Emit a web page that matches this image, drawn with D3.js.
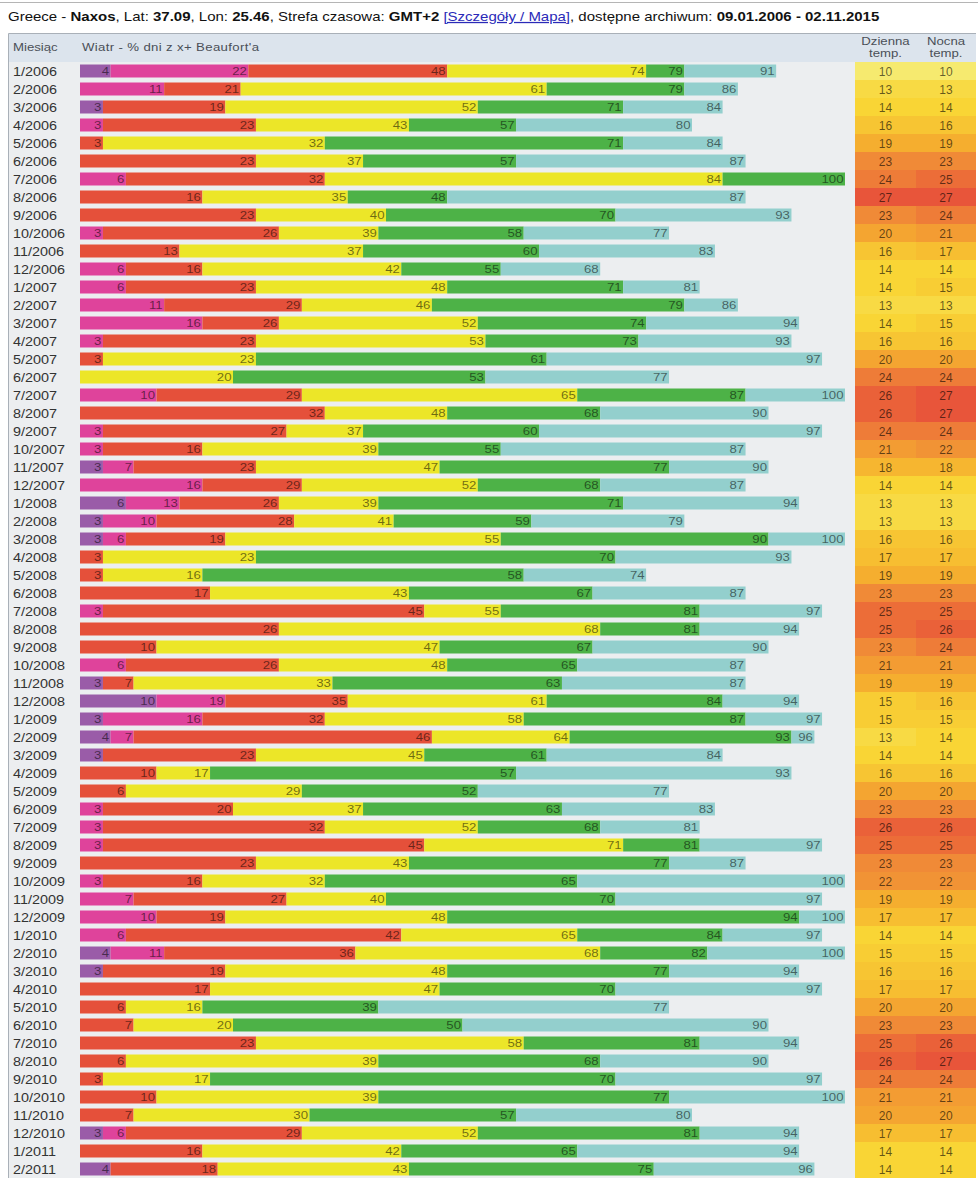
<!DOCTYPE html>
<html>
<head>
<meta charset="utf-8">
<script src="https://cdn.jsdelivr.net/npm/d3@7"></script>
<style>
  html, body { margin: 0; padding: 0; background: #fff; }
  svg { display: block; font-family: "Liberation Sans", Arial, sans-serif; }
</style>
</head>
<body>
<svg id="chart" width="978" height="1178"></svg>
<script>
// Months (rows)
const months = [
  '1/2006','2/2006','3/2006','4/2006','5/2006','6/2006','7/2006','8/2006','9/2006','10/2006','11/2006','12/2006',
  '1/2007','2/2007','3/2007','4/2007','5/2007','6/2007','7/2007','8/2007','9/2007','10/2007','11/2007','12/2007',
  '1/2008','2/2008','3/2008','4/2008','5/2008','6/2008','7/2008','8/2008','9/2008','10/2008','11/2008','12/2008',
  '1/2009','2/2009','3/2009','4/2009','5/2009','6/2009','7/2009','8/2009','9/2009','10/2009','11/2009','12/2009',
  '1/2010','2/2010','3/2010','4/2010','5/2010','6/2010','7/2010','8/2010','9/2010','10/2010','11/2010','12/2010',
  '1/2011','2/2011'
];

// Cumulative % of days per wind level (strongest first); null = level not present that month
const windPurple = [4,null,3,null,null,null,null,null,null,null,null,null, null,null,null,null,null,null,null,null,null,null,3,null,
  6,3,3,null,null,null,null,null,null,null,3,10, 3,4,3,null,null,null,null,null,null,null,null,null, null,4,3,null,null,null,null,null,null,null,null,3, null,4];
const windPink = [22,11,null,3,null,null,6,null,null,3,null,6, 6,11,16,3,null,null,10,null,3,3,7,16,
  13,10,6,null,null,null,3,null,null,6,null,19, 16,7,null,null,null,3,3,3,null,3,7,10, 6,11,null,null,null,null,null,null,null,null,null,6, null,null];
const windRed = [48,21,19,23,3,23,32,16,23,26,13,16, 23,29,26,23,3,null,29,32,27,16,23,29,
  26,28,19,3,3,17,45,26,10,26,7,35, 32,46,23,10,6,20,32,45,23,16,27,19, 42,36,19,17,6,7,23,6,3,10,7,29, 16,18];
const windYellow = [74,61,52,43,32,37,84,35,40,39,37,42, 48,46,52,53,23,20,65,48,37,39,47,52,
  39,41,55,23,16,43,55,68,47,48,33,61, 58,64,45,17,29,37,52,71,43,32,40,48, 65,68,48,47,16,20,58,39,17,39,30,52, 42,43];
const windGreen = [79,79,71,57,71,57,100,48,70,58,60,55, 71,79,74,73,61,53,87,68,60,55,77,68,
  71,59,90,70,58,67,81,81,67,65,63,84, 87,93,61,57,52,63,68,81,77,65,70,94, 84,82,77,70,39,50,81,68,70,77,57,81, 65,75];
const windTeal = [91,86,84,80,84,87,null,87,93,77,83,68, 81,86,94,93,97,77,100,90,97,87,90,87,
  94,79,100,93,74,87,97,94,90,87,87,94, 97,96,84,93,77,83,81,97,87,100,97,100, 97,100,94,97,77,90,94,90,97,100,80,94, 94,96];

// Day and night temperature (°C)
const tempDay = [10,13,14,16,19,23,24,27,23,20,16,14, 14,13,14,16,20,24,26,26,24,21,18,14,
  13,13,16,17,19,23,25,25,23,21,19,15, 15,13,14,16,20,23,26,25,23,22,19,17, 14,15,16,17,20,23,25,26,24,21,20,17, 14,14];
const tempNight = [10,13,14,16,19,23,25,27,24,21,17,14, 15,13,15,16,20,24,27,27,24,22,18,14,
  13,13,16,17,19,23,25,26,24,21,19,16, 15,14,14,16,20,23,26,25,23,22,19,17, 14,15,16,17,20,23,26,27,24,21,20,17, 14,14];

const levels = [
  { key: 'purple', values: windPurple, color: '#9a5ca8' },
  { key: 'pink', values: windPink, color: '#df439b' },
  { key: 'red', values: windRed, color: '#e5503a' },
  { key: 'yellow', values: windYellow, color: '#ece628' },
  { key: 'green', values: windGreen, color: '#4db247' },
  { key: 'teal', values: windTeal, color: '#93cfcd' }
];

const size = { w: 978, h: 1178 };
const table = { left: 9, right: 976, top: 34, headH: 28, rowH: 18 };
const bodyTop = table.top + table.headH;
const tempCols = { dayX: 855, nightX: 916, end: table.right };
const sx = 1.2; // text in the source is drawn horizontally wide

const svg = d3.select('#chart');

const x = d3.scaleLinear().domain([0, 100]).range([80, 845]);
const y = d3.scaleBand()
  .domain(months)
  .range([bodyTop, bodyTop + months.length * table.rowH]);
const tempColor = d3.scaleLinear()
  .domain([10, 14, 19, 23, 25, 27])
  .range(['#f6ea6f', '#f9d535', '#f5ae2f', '#f08a37', '#ec6d38', '#e8553a']);

const wide = (px, py) => 'translate(' + px + ',' + py + ') scale(' + sx + ',1)';

// Build segments: each level spans from the previous cumulative value to its own
const segments = [];
months.forEach((m, i) => {
  let prev = 0;
  levels.forEach((lvl) => {
    const v = lvl.values[i];
    if (v == null) return;
    segments.push({ month: m, x0: prev, x1: v, color: lvl.color });
    prev = v;
  });
});

// Top rule
svg.append('line')
  .attr('x1', 0).attr('x2', size.w)
  .attr('y1', 2.5).attr('y2', 2.5)
  .attr('stroke', '#b5b5b5');

// Title line
const title = svg.append('text')
  .attr('transform', wide(8, 21))
  .attr('font-size', 12.5)
  .attr('fill', '#111');
[
  ['Greece - ', false], ['Naxos', true], [',  Lat: ', false], ['37.09', true],
  [', Lon: ', false], ['25.46', true], [', Strefa czasowa: ', false], ['GMT+2', true], [' ', false]
].forEach(([t, b]) => title.append('tspan').attr('font-weight', b ? 'bold' : null).text(t));
title.append('tspan')
  .attr('fill', '#2a2ab8')
  .attr('text-decoration', 'underline')
  .text('[Szczegóły / Mapa]');
title.append('tspan').text(', dostępne archiwum: ');
title.append('tspan').attr('font-weight', 'bold').text('09.01.2006 - 02.11.2015');

// Table backgrounds
svg.append('rect')
  .attr('x', table.left).attr('y', table.top)
  .attr('width', table.right - table.left).attr('height', table.headH)
  .attr('fill', '#dce4ed');
svg.append('rect')
  .attr('x', table.left).attr('y', bodyTop)
  .attr('width', tempCols.dayX - table.left).attr('height', size.h - bodyTop)
  .attr('fill', '#eceef0');
svg.append('line')
  .attr('x1', table.left - 0.5).attr('x2', table.right)
  .attr('y1', table.top - 0.5).attr('y2', table.top - 0.5)
  .attr('stroke', '#a9b0b8');
svg.append('line')
  .attr('x1', table.left - 0.5).attr('x2', table.left - 0.5)
  .attr('y1', table.top - 0.5).attr('y2', size.h)
  .attr('stroke', '#a9b0b8');

// Header texts
const head = svg.append('g')
  .attr('font-size', 11)
  .attr('fill', '#4a4f57');
head.append('text').attr('transform', wide(13, 51)).text('Miesiąc');
head.append('text').attr('transform', wide(82, 51)).attr('letter-spacing', 0.3).text('Wiatr - % dni z x+ Beaufort\'a');
[['Dzienna', tempCols.dayX, tempCols.nightX], ['Nocna', tempCols.nightX, tempCols.end]].forEach(([t, a, b]) => {
  const cx = (a + b) / 2;
  head.append('text').attr('transform', wide(cx, 45)).attr('text-anchor', 'middle').text(t);
  head.append('text').attr('transform', wide(cx, 57)).attr('text-anchor', 'middle').text('temp.');
});

// Month labels
svg.append('g')
  .selectAll('text')
  .data(months)
  .join('text')
  .attr('transform', (d) => wide(13, y(d) + y.bandwidth() / 2 + 4.5))
  .attr('font-size', 12)
  .attr('fill', '#333')
  .text((d) => d);

// Wind bars
const barH = 13;
svg.append('g')
  .selectAll('rect')
  .data(segments)
  .join('rect')
  .attr('x', (d) => x(d.x0))
  .attr('y', (d) => y(d.month) + (y.bandwidth() - barH) / 2)
  .attr('width', (d) => x(d.x1) - x(d.x0))
  .attr('height', barH)
  .attr('fill', (d) => d.color);

svg.append('g')
  .selectAll('text')
  .data(segments)
  .join('text')
  .attr('transform', (d) => wide(x(d.x1) - 1.5, y(d.month) + y.bandwidth() / 2 + 4))
  .attr('text-anchor', 'end')
  .attr('font-size', 11)
  .attr('fill', '#000')
  .attr('fill-opacity', 0.55)
  .text((d) => d.x1);

// Temperature cells
const temps = [];
months.forEach((m, i) => {
  temps.push({ month: m, v: tempDay[i], x0: tempCols.dayX, x1: tempCols.nightX });
  temps.push({ month: m, v: tempNight[i], x0: tempCols.nightX, x1: tempCols.end });
});

const cells = svg.append('g');
cells.selectAll('rect')
  .data(temps)
  .join('rect')
  .attr('x', (d) => d.x0)
  .attr('y', (d) => y(d.month))
  .attr('width', (d) => d.x1 - d.x0)
  .attr('height', y.bandwidth() + 0.5)
  .attr('fill', (d) => tempColor(d.v));
cells.selectAll('text')
  .data(temps)
  .join('text')
  .attr('x', (d) => (d.x0 + d.x1) / 2)
  .attr('y', (d) => y(d.month) + y.bandwidth() / 2 + 4.5)
  .attr('text-anchor', 'middle')
  .attr('font-size', 12)
  .attr('fill', '#000')
  .attr('fill-opacity', 0.6)
  .text((d) => d.v);
</script>
</body>
</html>
